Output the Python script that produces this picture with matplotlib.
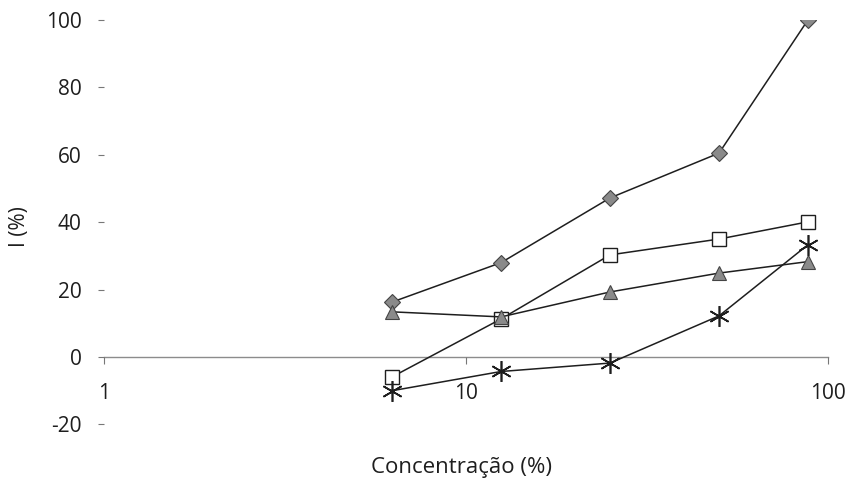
import matplotlib
matplotlib.use("Agg")
import matplotlib.pyplot as plt

plt.rcParams["font.family"] = ["Open Sans", "DejaVu Sans"]
plt.rcParams["axes.unicode_minus"] = False

# concentration (%) on a log axis
conc = [6.25, 12.5, 25, 50, 88]
# inhibition I (%) per series
s_diamond = [16.3, 28.0, 47.2, 60.5, 100.0]
s_square = [-5.9, 11.3, 30.3, 35.0, 40.1]
s_triangle = [13.4, 11.9, 19.3, 24.9, 28.3]
s_star = [-10.0, -4.3, -1.8, 12.2, 33.3]

xticks = [1, 10, 100]
xticklabels = ["1", "10", "100"]
yticks = [-20, 0, 20, 40, 60, 80, 100]

fig = plt.figure(figsize=(8.48, 4.79), dpi=100)
ax = fig.add_axes([104 / 848, 1 - 424.4 / 479, 724 / 848, 404.4 / 479])

ink = "#1e1e1e"
ax.plot(conc, s_diamond, "-D", color=ink, lw=1.1, ms=8,
        mfc="#8a8a8a", mec="#444444", mew=0.8)
ax.plot(conc, s_square, "-s", color=ink, lw=1.1, ms=10,
        mfc="white", mec=ink, mew=1.0)
ax.plot(conc, s_triangle, "-^", color=ink, lw=1.1, ms=10,
        mfc="#8a8a8a", mec="#444444", mew=0.8)
ax.plot(conc, s_star, "-", color=ink, lw=1.1, marker=(6, 2, 0), ms=15,
        mec=ink, mew=1.2)

ax.set_xscale("log")
ax.set_xlim(1, 100)
ax.set_ylim(-20, 100)

for side in ["top", "right", "left"]:
    ax.spines[side].set_visible(False)
ax.spines["bottom"].set_position(("data", 0))
ax.spines["bottom"].set_color("#8c8c8c")
ax.spines["bottom"].set_linewidth(1.0)
ax.spines["bottom"].set_zorder(0)

ax.set_xticks(xticks)
ax.set_xticklabels(xticklabels)
ax.xaxis.set_minor_locator(matplotlib.ticker.NullLocator())
ax.tick_params(axis="x", direction="out", length=5, width=0.8,
               color="#777777", labelsize=15, labelcolor=ink, pad=14)
ax.set_yticks(yticks)
ax.tick_params(axis="y", direction="out", length=4, width=0.8,
               color="#777777", labelsize=15, labelcolor=ink, pad=12)

fig.text(19 / 848, 1 - 227 / 479, "I (%)", rotation=90, ha="center",
         va="center", fontsize=15, color=ink)
fig.text(462 / 848, 1 - 467 / 479, "Concentração (%)",
         ha="center", va="center", fontsize=16, color=ink)

fig.savefig("out.png", dpi=100)
